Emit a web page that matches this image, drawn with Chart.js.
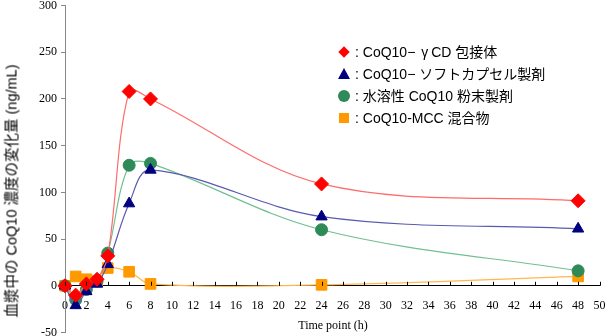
<!DOCTYPE html>
<html><head><meta charset="utf-8">
<script src="https://cdn.jsdelivr.net/npm/chart.js@4/dist/chart.umd.min.js"></script>
<style>
html,body{margin:0;padding:0;background:#fff;}
#wrap{position:relative;width:608px;height:336px;overflow:hidden;}
#c{position:absolute;left:0;top:-3px;}
.ytitle{position:absolute;left:10px;top:191px;transform:translate(-50%,-50%) rotate(-90deg);font-family:"Liberation Sans","Noto Sans CJK JP",sans-serif;font-size:14.5px;white-space:nowrap;color:#000;}
.xtitle{position:absolute;left:333px;top:318px;transform:translateX(-50%);font-family:"Liberation Serif",serif;font-size:12px;white-space:nowrap;color:#000;}
.legend{position:absolute;left:337px;top:41px;font-family:"Liberation Sans","Noto Sans CJK JP",sans-serif;font-size:14px;color:#000;}
.legend .row{height:22px;line-height:20px;white-space:nowrap;display:flex;align-items:center;}
.legend .g{margin:0 3px 0 2px;}
.mk{display:inline-block;width:14px;height:14px;position:relative;margin-right:4px;}
.mk .dia{position:absolute;left:3px;top:3px;width:8px;height:8px;background:#FF0000;transform:rotate(45deg);}
.mk .tri{position:absolute;left:1px;top:1px;width:0;height:0;border-left:6px solid transparent;border-right:6px solid transparent;border-bottom:11px solid #000080;}
.mk .cir{position:absolute;left:1px;top:1px;width:12px;height:12px;border-radius:50%;background:#2E8B57;}
.mk .sq{position:absolute;left:2px;top:2px;width:10px;height:10px;background:#FF9900;}
</style>
</head><body>
<div id="wrap">
<canvas id="c" width="608" height="344"></canvas>
<div class="ytitle">血漿中の CoQ10 濃度の変化量 (ng/mL)</div>
<div class="xtitle">Time point (h)</div>
<div class="legend">
 <div class="row"><span class="mk"><span class="dia"></span></span><span>: CoQ10− <span class="g">γ</span>CD 包接体</span></div>
 <div class="row"><span class="mk"><span class="tri"></span></span><span>: CoQ10− ソフトカプセル製剤</span></div>
 <div class="row"><span class="mk"><span class="cir"></span></span><span>: 水溶性 CoQ10 粉末製剤</span></div>
 <div class="row"><span class="mk"><span class="sq"></span></span><span>: CoQ10-MCC 混合物</span></div>
</div>
</div>
<script>
const timePoints = [0, 1, 2, 3, 4, 6, 8, 24, 48];
const cdComplex   = [0, -10, 2, 7, 32, 208, 200, 109, 91];
const softCapsule = [0, -21, -6, 2, 23, 88, 124, 74, 61];
const powderForm  = [0, -15, -4, 5, 35, 129, 131, 60, 16];
const mccMixture  = [0, 10, 7, 5, 19, 15, 2, 1, 10];
const seriesNames = ['CoQ10−γCD 包接体', 'CoQ10−ソフトカプセル製剤', '水溶性 CoQ10 粉末製剤', 'CoQ10-MCC 混合物'];

const pts = arr => timePoints.map((t, i) => ({x: t, y: arr[i]}));

const innerTicks = {
  id: 'innerTicks',
  afterDatasetsDraw(chart) {
    const xs = chart.scales.x, ys = chart.scales.y;
    const y0 = ys.getPixelForValue(0);
    const ctx = chart.ctx;
    ctx.save();
    ctx.strokeStyle = '#000';
    ctx.lineWidth = 1;
    ctx.beginPath();
    xs.ticks.forEach(t => {
      const px = Math.round(xs.getPixelForValue(t.value)) + 0.5;
      ctx.moveTo(px, y0);
      ctx.lineTo(px, y0 - 4);
    });
    ctx.stroke();
    ctx.restore();
  }
};

new Chart(document.getElementById('c'), {
  type: 'line',
  data: {
    datasets: [
      {label: seriesNames[0], data: pts(cdComplex), borderColor: '#FF6A6A', backgroundColor: '#FF0000', pointStyle: 'rectRot', pointRadius: 7, pointBorderColor: '#FF0000', pointBackgroundColor: '#FF0000'},
      {label: seriesNames[1], data: pts(softCapsule), borderColor: '#5A5AB0', backgroundColor: '#000080', pointStyle: 'triangle', pointRadius: 6.5, pointBorderColor: '#000080', pointBackgroundColor: '#000080'},
      {label: seriesNames[2], data: pts(powderForm), borderColor: '#70C090', backgroundColor: '#2E8B57', pointStyle: 'circle', pointRadius: 6, pointBorderColor: '#2E8B57', pointBackgroundColor: '#2E8B57'},
      {label: seriesNames[3], data: pts(mccMixture), borderColor: '#FFB84D', backgroundColor: '#FF9900', pointStyle: 'rect', pointRadius: 7.5, pointBorderColor: '#FF9900', pointBackgroundColor: '#FF9900'}
    ].map(d => Object.assign(d, {borderWidth: 1.2, tension: 0.35, fill: false, pointBorderWidth: 1, clip: false}))
  },
  options: {
    responsive: false,
    animation: false,
    events: [],
    layout: {padding: {top: 2, bottom: 0, right: 7, left: 0}},
    plugins: {legend: {display: false}, tooltip: {enabled: false}},
    scales: {
      x: {
        type: 'linear',
        position: {y: 0},
        min: 0, max: 50,
        ticks: {stepSize: 2, color: '#000', font: {family: 'Liberation Serif', size: 12}, padding: 5, maxRotation: 0, autoSkip: false},
        grid: {display: false},
        border: {display: true, color: '#000', width: 1},
        afterFit(scale) { scale.height = 0; scale.paddingLeft = 0; scale.paddingRight = 0; }
      },
      y: {
        min: -50, max: 300,
        ticks: {stepSize: 50, color: '#000', font: {family: 'Liberation Serif', size: 12}, padding: 4},
        grid: {display: true, drawOnChartArea: false, drawTicks: true, tickLength: 4, color: '#888'},
        border: {display: true, color: '#888', width: 1},
        afterFit(scale) { scale.width = 65; scale.paddingTop = 0; scale.paddingBottom = 0; }
      }
    }
  },
  plugins: [innerTicks]
});
</script>
</body></html>
